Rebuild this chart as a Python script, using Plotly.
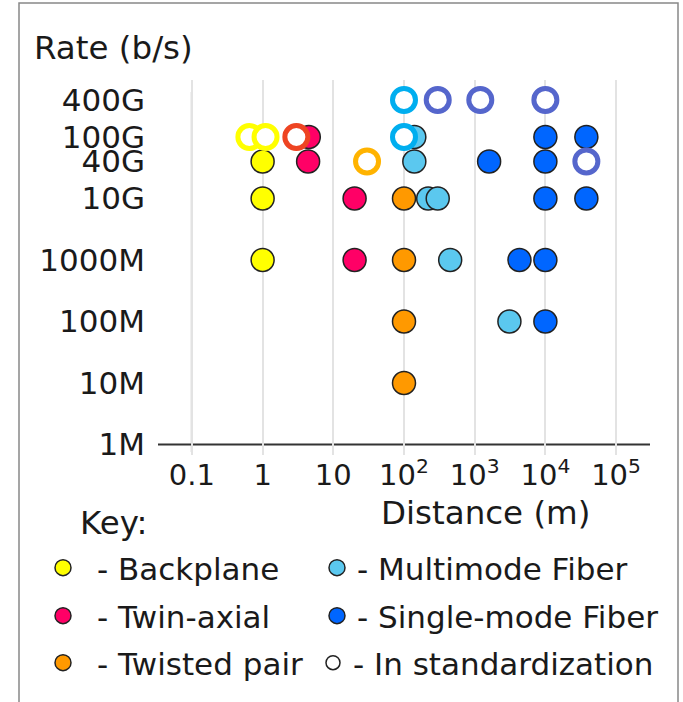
import plotly.graph_objects as go

# ---- axis ticks ----
rate_values = [1e6, 1e7, 1e8, 1e9, 1e10, 4e10, 1e11, 4e11]
rate_labels = ["1M", "10M", "100M", "1000M", "10G", "40G", "100G", "400G"]
grid_rates = [1e6, 1e7, 1e8, 1e9, 1e10, 1e11, 4e11]
dist_ticks = [0.1, 1, 10, 100, 1000, 1e4, 1e5]
dist_labels = ["0.1", "1", "10", "10<sup>2</sup>", "10<sup>3</sup>", "10<sup>4</sup>", "10<sup>5</sup>"]

# ---- data (distance in m, rate in b/s) ----
backplane_dist = [1, 1, 1]
backplane_rate = [1e9, 1e10, 4e10]
backplane_std_dist = [0.65, 1.1]
backplane_std_rate = [1e11, 1e11]

twinax_dist = [20, 20, 4.4, 4.5]
twinax_rate = [1e9, 1e10, 4e10, 1e11]
twinax_std_dist = [3]
twinax_std_rate = [1e11]

twisted_dist = [100, 100, 100, 100]
twisted_rate = [1e7, 1e8, 1e9, 1e10]
twisted_std_dist = [30]
twisted_std_rate = [4e10]

mmf_dist = [3100, 450, 220, 300, 140, 140]
mmf_rate = [1e8, 1e9, 1e10, 1e10, 4e10, 1e11]
mmf_std_dist = [100, 100]
mmf_std_rate = [1e11, 4e11]

smf_dist = [1e4, 4300, 1e4, 1e4, 38000, 1600, 1e4, 1e4, 38000]
smf_rate = [1e8, 1e9, 1e9, 1e10, 1e10, 4e10, 4e10, 1e11, 1e11]
smf_std_dist = [300, 1200, 1e4, 38000]
smf_std_rate = [4e11, 4e11, 4e11, 4e10]

FONT = "DejaVu Sans"
TXT = "#1a1a1a"

W, H = 683, 702
PL, PR, PT, PB = 158, 650, 80, 455  # plot area in page pixels
PW, PH = PR - PL, PB - PT

def px(xp):
    return (xp - PL) / PW

def py(yp):
    return (PB - yp) / PH

# name, fill colour, ring colour, data..., legend id, legend left (px), row centre (px), itemwidth
categories = [
    ("- Backplane", "#FFFF00", "#FFFF00", backplane_dist, backplane_rate, backplane_std_dist, backplane_std_rate, "legend", 29, 568, 58),
    ("- Multimode Fiber", "#5BC8EF", "#00AEEF", mmf_dist, mmf_rate, mmf_std_dist, mmf_std_rate, "legend2", 317, 568, 30),
    ("- Twin-axial", "#FF0066", "#EE4422", twinax_dist, twinax_rate, twinax_std_dist, twinax_std_rate, "legend3", 29, 616, 58),
    ("- Single-mode Fiber", "#0066FF", "#5566CC", smf_dist, smf_rate, smf_std_dist, smf_std_rate, "legend4", 317, 616, 30),
    ("- Twisted pair", "#FF9900", "#FFB300", twisted_dist, twisted_rate, twisted_std_dist, twisted_std_rate, "legend5", 29, 663, 58),
]

fig = go.Figure()

for name, fill, ring, dx, dy, sx, sy, lg, lx, ly, iw in categories:
    fig.add_trace(go.Scatter(
        x=dx, y=dy, mode="markers", name=name, legend=lg,
        marker=dict(size=23, color=fill, line=dict(color="#222222", width=1.5)),
        hoverinfo="x+y",
    ))

for name, fill, ring, dx, dy, sx, sy, lg, lx, ly, iw in categories:
    fig.add_trace(go.Scatter(
        x=sx, y=sy, mode="markers", name=name + " (in standardization)", showlegend=False,
        marker=dict(size=23, color="white", line=dict(color=ring, width=5)),
        hoverinfo="x+y",
    ))

# legend-only entry for "In standardization"
fig.add_trace(go.Scatter(
    x=[None], y=[None], mode="markers", name="- In standardization", legend="legend6",
    marker=dict(size=14, color="white", line=dict(color="#222222", width=1.5)),
))

def leg(x_page, y_page, iw):
    return dict(orientation="v", x=px(x_page), y=py(y_page), xanchor="left", yanchor="middle",
                font=dict(family=FONT, size=31, color=TXT), itemsizing="trace", itemwidth=iw,
                bgcolor="rgba(0,0,0,0)", borderwidth=0)

legends = {}
for name, fill, ring, dx, dy, sx, sy, lg, lx, ly, iw in categories:
    legends[lg] = leg(lx, ly, iw)
legends["legend6"] = leg(313, 663, 30)

fig.update_layout(
    width=W, height=H,
    margin=dict(l=PL, r=W - PR, t=PT, b=H - PB),
    paper_bgcolor="white", plot_bgcolor="white",
    font=dict(family=FONT, color=TXT),
    xaxis=dict(type="log", range=[-1.48, 5.48], tickvals=dist_ticks, ticktext=dist_labels,
               showgrid=True, gridcolor="#E3E3E3", gridwidth=1.5, zeroline=False, showline=False,
               ticks="", tickfont=dict(family=FONT, size=29, color=TXT)),
    yaxis=dict(type="log", range=[5.829, 11.927], tickvals=rate_values, ticktext=rate_labels,
               showgrid=False, zeroline=False, showline=False, ticks="",
               ticklabelstandoff=12,
               tickfont=dict(family=FONT, size=31, color=TXT)),
    yaxis2=dict(type="log", range=[5.829, 11.927], overlaying="y", anchor="x", side="left",
                tickvals=grid_rates, showticklabels=False, showgrid=True,
                gridcolor="#E3E3E3", gridwidth=1.5, zeroline=False, showline=False, ticks=""),
    showlegend=True,
    **legends,
)

fig.add_annotation(text="Rate (b/s)", xref="paper", yref="paper", x=px(32), y=py(48),
                   xanchor="left", yanchor="middle", showarrow=False,
                   font=dict(family=FONT, size=32.5, color=TXT))
fig.add_annotation(text="Distance (m)", xref="paper", yref="paper", x=px(485), y=py(513),
                   xanchor="center", yanchor="middle", showarrow=False,
                   font=dict(family=FONT, size=32.5, color=TXT))
fig.add_annotation(text="Key:", xref="paper", yref="paper", x=px(78), y=py(523),
                   xanchor="left", yanchor="middle", showarrow=False,
                   font=dict(family=FONT, size=32.5, color=TXT))

# axis lines crossing at (0.1 m, 1M)
fig.add_shape(type="line", xref="paper", yref="y", x0=0, x1=1, y0=1e6, y1=1e6,
              line=dict(color="#333333", width=2), layer="below")
fig.add_shape(type="line", xref="x", yref="paper", x0=0.1, x1=0.1, y0=py(452), y1=py(92),
              line=dict(color="#333333", width=2), layer="below")
# outer frame
fig.add_shape(type="rect", xref="paper", yref="paper", x0=px(19), x1=px(678), y0=py(720), y1=py(3),
              line=dict(color="#888888", width=1.5), fillcolor="rgba(0,0,0,0)", layer="below")

fig.write_html("out.html", config={"displayModeBar": False},
               post_script="document.body.style.margin='0';document.body.style.overflow='hidden';")
